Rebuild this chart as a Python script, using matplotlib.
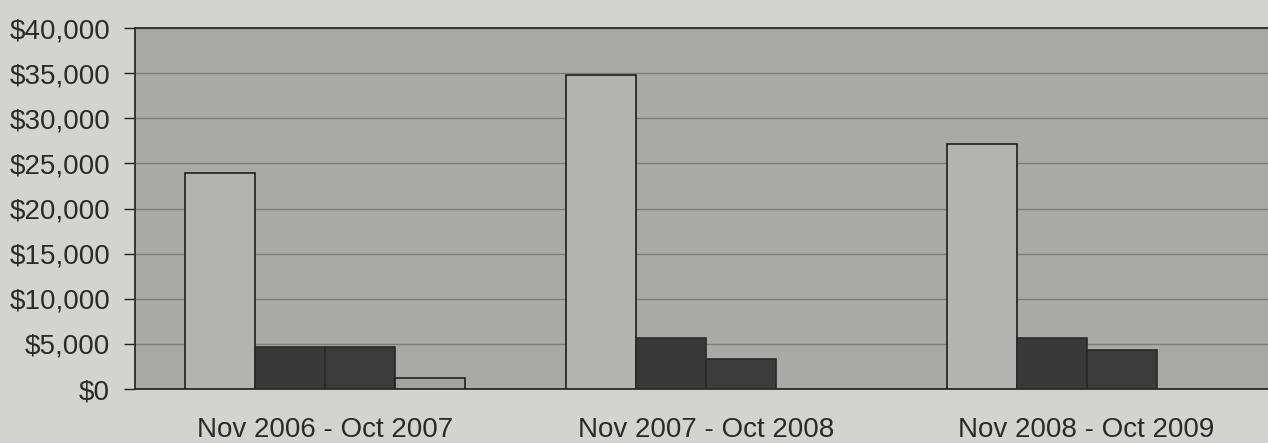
import matplotlib
matplotlib.use("Agg")
import matplotlib.pyplot as plt
import numpy as np
from matplotlib.ticker import FuncFormatter

categories = ["Nov 2006 - Oct 2007", "Nov 2007 - Oct 2008", "Nov 2008 - Oct 2009"]
series_a = [23900, 34800, 27100]
series_b = [4700, 5600, 5600]
series_c = [4700, 3300, 4300]
series_d = [1200, 0, 0]
yticks = [0, 5000, 10000, 15000, 20000, 25000, 30000, 35000, 40000]

plt.rcParams['font.family'] = ['Liberation Sans', 'DejaVu Sans']

fig = plt.figure(figsize=(12.68, 4.43), dpi=100)
fig.patch.set_facecolor('#d3d3d1')
ax = fig.add_axes([135/1268, 54/443, 1142/1268, 361/443])
ax.set_facecolor('#a9a9a7')

x = np.arange(len(categories))
w = 0.184
colors = ['#b3b3b1', '#393939', '#3b3b3b', '#a2a2a0']
edges = ['#1e1e1e', '#2a2a2a', '#2a2a2a', '#1e1e1e']
series = [series_a, series_b, series_c, series_d]
for i, (s, c, e) in enumerate(zip(series, colors, edges)):
    vals = np.array(s, dtype=float)
    mask = vals > 0
    ax.bar((x + (i - 1.5) * w)[mask], vals[mask], width=w, color=c, edgecolor=e,
           linewidth=1.2, zorder=3)

ax.set_xlim(-0.5, 2.5)
ax.set_ylim(0, 40000)
ax.set_yticks(yticks)
ax.yaxis.set_major_formatter(FuncFormatter(lambda v, p: "${:,.0f}".format(v)))
ax.grid(axis='y', color='#7d7d7b', linewidth=1.0, zorder=1)
ax.set_xticks(x)
ax.set_xticklabels(categories)
ax.tick_params(axis='x', length=0, pad=20, labelsize=20, colors='#222222')
ax.tick_params(axis='y', length=8, width=1.0, pad=10, labelsize=20, colors='#222222', direction='out')
for lbl in ax.get_yticklabels() + ax.get_xticklabels():
    lbl.set_color('#2a2a2a')
for sp in ['left', 'bottom', 'top']:
    ax.spines[sp].set_color('#2a2a2a')
    ax.spines[sp].set_linewidth(1.3)
ax.spines['right'].set_visible(False)

fig.savefig('out.png', dpi=100, facecolor=fig.get_facecolor())
